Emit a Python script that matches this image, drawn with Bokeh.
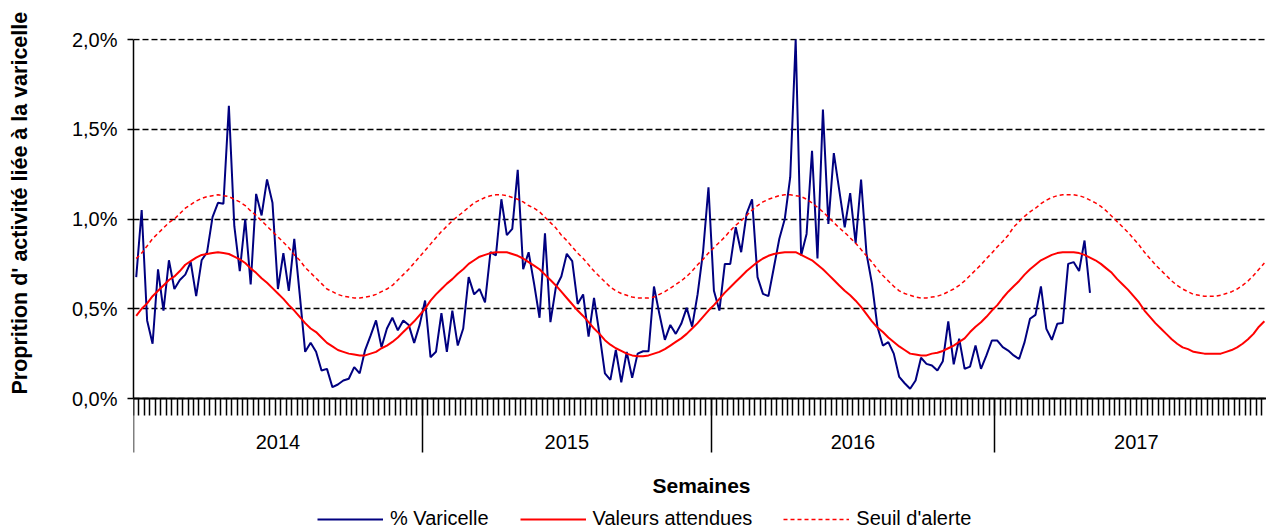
from bokeh.plotting import figure
from bokeh.models import Range1d, FixedTicker, Legend, LegendItem, Label, LinearAxis, Title
from bokeh.embed import file_html
from bokeh.resources import INLINE

# ---------------- data ----------------
varicelle = [
    0.676, 1.05, 0.435, 0.305, 0.72, 0.49, 0.77, 0.61, 0.66, 0.69,
    0.76, 0.57, 0.77, 0.815, 1.01, 1.09, 1.085, 1.63, 0.96, 0.71,
    1.0, 0.635, 1.14, 1.02, 1.22, 1.09, 0.61, 0.81, 0.60, 0.89,
    0.58, 0.26, 0.31, 0.26, 0.156, 0.165, 0.063, 0.078, 0.10, 0.11,
    0.175, 0.14, 0.27, 0.35, 0.435, 0.286, 0.39, 0.45, 0.38, 0.435,
    0.41, 0.31, 0.41,
    0.546, 0.23, 0.26, 0.475, 0.26, 0.49, 0.295, 0.39, 0.676, 0.58,
    0.61, 0.536, 0.815, 0.797, 1.11, 0.91, 0.945, 1.274, 0.72, 0.815,
    0.64, 0.45, 0.92, 0.425, 0.62, 0.68, 0.806, 0.765, 0.527, 0.58,
    0.345, 0.56, 0.36, 0.14, 0.104, 0.27, 0.09, 0.26, 0.115, 0.25,
    0.263, 0.263, 0.624, 0.47, 0.327, 0.41, 0.36, 0.416, 0.505, 0.40,
    0.58, 0.815, 1.177, 0.60, 0.49,
    0.75, 0.75, 0.954, 0.815, 1.03, 1.11, 0.676, 0.583, 0.57, 0.73,
    0.89, 1.0, 1.233, 2.0, 0.797, 0.917, 1.38, 0.78, 1.61, 0.973,
    1.367, 1.16, 0.954, 1.144, 0.865, 1.22, 0.806, 0.64, 0.40, 0.295,
    0.314, 0.25, 0.12, 0.085, 0.054, 0.10, 0.227, 0.193, 0.184, 0.156,
    0.208, 0.43, 0.19, 0.333, 0.165, 0.178, 0.295, 0.165, 0.24, 0.323,
    0.323, 0.286, 0.267, 0.24, 0.22, 0.314, 0.444, 0.466, 0.624, 0.388,
    0.327, 0.416, 0.42, 0.75, 0.76, 0.71, 0.88, 0.589,
]

attendues = [
    0.46, 0.50, 0.53, 0.57, 0.60, 0.63, 0.66, 0.68, 0.71, 0.745,
    0.765, 0.785, 0.80, 0.805, 0.81, 0.815, 0.81, 0.805, 0.79, 0.775,
    0.755, 0.725, 0.70, 0.67, 0.645, 0.615, 0.585, 0.555, 0.52, 0.49,
    0.455, 0.42, 0.39, 0.37, 0.34, 0.31, 0.29, 0.27, 0.26, 0.25,
    0.245, 0.24, 0.24, 0.25, 0.26, 0.28, 0.295, 0.315, 0.34, 0.37,
    0.40, 0.43, 0.465, 0.50, 0.545, 0.58, 0.61, 0.64, 0.665, 0.695,
    0.72, 0.75, 0.77, 0.79, 0.80, 0.81, 0.815, 0.815, 0.815, 0.805,
    0.795, 0.78, 0.76, 0.74, 0.72, 0.69, 0.66, 0.63, 0.595, 0.56,
    0.525, 0.49, 0.46, 0.425, 0.39, 0.36, 0.325, 0.30, 0.28, 0.265,
    0.25, 0.24, 0.235, 0.235, 0.24, 0.25, 0.26, 0.275, 0.295, 0.315,
    0.335, 0.36, 0.39, 0.42, 0.455, 0.49, 0.52, 0.555, 0.59, 0.62,
    0.65, 0.68, 0.71, 0.735, 0.76, 0.78, 0.795, 0.805, 0.81, 0.815,
    0.815, 0.815, 0.80, 0.785, 0.77, 0.745, 0.72, 0.69, 0.66, 0.63,
    0.60, 0.575, 0.545, 0.51, 0.47, 0.43, 0.395, 0.37, 0.34, 0.315,
    0.29, 0.27, 0.25, 0.245, 0.24, 0.24, 0.25, 0.255, 0.265, 0.28,
    0.295, 0.315, 0.335, 0.37, 0.40, 0.425, 0.455, 0.49, 0.52, 0.56,
    0.595, 0.625, 0.655, 0.69, 0.72, 0.745, 0.77, 0.785, 0.80, 0.81,
    0.815, 0.815, 0.815, 0.81, 0.80, 0.785, 0.77, 0.75, 0.725, 0.70,
    0.665, 0.635, 0.605, 0.57, 0.535, 0.49, 0.455, 0.42, 0.39, 0.36,
    0.33, 0.305, 0.285, 0.275, 0.26, 0.255, 0.25, 0.25, 0.25, 0.25,
    0.26, 0.27, 0.285, 0.305, 0.33, 0.36, 0.40, 0.43,
]

seuil = [
    0.78, 0.81, 0.85, 0.89, 0.92, 0.95, 0.98, 1.00, 1.03, 1.06,
    1.08, 1.10, 1.115, 1.125, 1.13, 1.135, 1.13, 1.125, 1.11, 1.095,
    1.075, 1.045, 1.02, 0.99, 0.96, 0.93, 0.90, 0.87, 0.84, 0.80,
    0.77, 0.73, 0.70, 0.67, 0.64, 0.61, 0.595, 0.58, 0.57, 0.565,
    0.56, 0.56, 0.565, 0.57, 0.58, 0.595, 0.61, 0.63, 0.66, 0.69,
    0.72, 0.755, 0.79, 0.825, 0.86, 0.895, 0.93, 0.96, 0.99, 1.015,
    1.04, 1.065, 1.09, 1.105, 1.12, 1.13, 1.135, 1.135, 1.13, 1.12,
    1.11, 1.095, 1.075, 1.06, 1.04, 1.01, 0.98, 0.95, 0.91, 0.88,
    0.845, 0.81, 0.78, 0.745, 0.71, 0.68, 0.65, 0.62, 0.60, 0.585,
    0.575, 0.565, 0.56, 0.56, 0.56, 0.565, 0.58, 0.595, 0.615, 0.635,
    0.655, 0.68, 0.71, 0.745, 0.775, 0.81, 0.84, 0.87, 0.90, 0.935,
    0.965, 0.99, 1.02, 1.05, 1.075, 1.095, 1.11, 1.12, 1.13, 1.135,
    1.135, 1.13, 1.125, 1.11, 1.09, 1.065, 1.04, 1.01, 0.98, 0.95,
    0.925, 0.895, 0.865, 0.83, 0.795, 0.76, 0.72, 0.685, 0.655, 0.625,
    0.60, 0.585, 0.575, 0.565, 0.56, 0.56, 0.565, 0.57, 0.58, 0.595,
    0.61, 0.63, 0.655, 0.685, 0.715, 0.745, 0.78, 0.81, 0.845, 0.875,
    0.91, 0.955, 0.985, 1.015, 1.04, 1.06, 1.085, 1.105, 1.12, 1.13,
    1.135, 1.135, 1.135, 1.13, 1.12, 1.105, 1.09, 1.07, 1.045, 1.015,
    0.985, 0.955, 0.925, 0.89, 0.855, 0.815, 0.78, 0.745, 0.715, 0.685,
    0.655, 0.63, 0.61, 0.595, 0.58, 0.575, 0.57, 0.57, 0.57, 0.575,
    0.585, 0.595, 0.61, 0.63, 0.655, 0.685, 0.72, 0.755,
]

year_labels = ["2014", "2015", "2016", "2017"]
year_starts = [0, 53, 106, 158]
year_centers = [26.5, 79.5, 132, 184]
y_ticks = [0.0, 0.5, 1.0, 1.5, 2.0]
y_tick_labels = ["0,0%", "0,5%", "1,0%", "1,5%", "2,0%"]
n_weeks = 208

weeks_v = [i + 0.5 for i in range(len(varicelle))]
weeks_r = [i + 0.5 for i in range(len(attendues))]

# ---------------- layout ----------------
FONT = "Liberation Sans"
W, H = 1266, 530
LEFT, TOP = 133, 38
ZERO_PX = 398                      # pixel row of the 0 % line
PX_Y = 2.0056 / (ZERO_PX - TOP)    # data units per pixel (y)
X_MAX = (W - LEFT) / 5.45          # 5.45 px per week
Y_MIN = -(H - ZERO_PX) * PX_Y

p = figure(width=W, height=H,
           x_range=Range1d(0, X_MAX), y_range=Range1d(Y_MIN, 2.0056),
           output_backend="svg", toolbar_location=None,
           min_border_left=LEFT, min_border_right=0,
           min_border_top=TOP, min_border_bottom=0)
p.outline_line_color = None
p.background_fill_color = "white"
p.border_fill_color = "white"
p.xgrid.visible = False
p.ygrid.grid_line_color = "black"
p.ygrid.grid_line_dash = "6 3"
p.ygrid.grid_line_width = 1.5
p.ygrid.bounds = (Y_MIN, 2.0056)

# y axis
ya = p.yaxis[0]
ya.bounds = (0, 2.0)
ya.ticker = FixedTicker(ticks=y_ticks)
ya.major_label_overrides = {t: l for t, l in zip(y_ticks, y_tick_labels)}
ya.major_label_text_font = FONT
ya.major_label_text_font_size = "20px"
ya.major_label_text_color = "black"
ya.major_label_standoff = 10
ya.major_tick_out = 6
ya.major_tick_in = 0
ya.major_tick_line_color = "black"
ya.major_tick_line_width = 1.5
ya.minor_tick_line_color = None
ya.axis_line_color = "black"
ya.axis_line_width = 1.5

# spacer axis between the tick labels and the y title: one white tick, no label
spacer = LinearAxis(ticker=FixedTicker(ticks=[0.0]), bounds=(0, 2.0),
                    major_tick_out=36, major_tick_in=0,
                    major_tick_line_color="white", minor_tick_line_color=None,
                    axis_line_color=None, major_label_standoff=0,
                    major_label_overrides={0.0: ""}, major_label_text_font_size="1px")
p.add_layout(spacer, "left")

ytitle = Title(text="Proprition d' activité liée à la varicelle", align="left",
               offset=H - 394, vertical_align="middle", standoff=0,
               text_font=FONT, text_font_size="21.5px", text_font_style="bold",
               text_color="black")
p.add_layout(ytitle, "left")

# x axis (drawn on the 0 line)
xa = p.xaxis[0]
xa.fixed_location = 0
xa.ticker = FixedTicker(ticks=year_starts, minor_ticks=list(range(0, n_weeks + 1)))
xa.major_label_overrides = {t: "" for t in year_starts}
xa.major_label_text_font_size = "1px"
xa.major_tick_out = 54
xa.major_tick_in = 0
xa.major_tick_line_color = "black"
xa.major_tick_line_width = 1.5
xa.minor_tick_out = 17
xa.minor_tick_in = 0
xa.minor_tick_line_color = "black"
xa.minor_tick_line_width = 1.5
xa.axis_line_color = "black"
xa.axis_line_width = 2

# series
r_v = p.line(weeks_v, varicelle, line_color="#000080", line_width=2)
r_a = p.line(weeks_r, attendues, line_color="#FF0000", line_width=2)
r_s = p.line(weeks_r, seuil, line_color="#FF0000", line_width=1.5, line_dash="4 3")

# year labels under the axis
for xc, lab in zip(year_centers, year_labels):
    p.add_layout(Label(x=xc, y=-43.5 * PX_Y, text=lab, text_align="center",
                       text_baseline="middle", text_font=FONT,
                       text_font_size="20px", text_color="black"))

p.add_layout(Label(x=(701 - LEFT) / 5.45, y=-87 * PX_Y, text="Semaines",
                   text_align="center", text_baseline="middle", text_font=FONT,
                   text_font_size="21px", text_font_style="bold", text_color="black"))

legend = Legend(items=[LegendItem(label="% Varicelle", renderers=[r_v]),
                       LegendItem(label="Valeurs attendues", renderers=[r_a]),
                       LegendItem(label="Seuil d'alerte", renderers=[r_s])],
                orientation="horizontal", location=(317 - LEFT, 0),
                glyph_width=66, glyph_height=20, label_height=20,
                label_standoff=7, spacing=31, padding=0, margin=0,
                border_line_color=None, background_fill_alpha=0,
                label_text_font=FONT, label_text_font_size="20px",
                label_text_color="black")
p.add_layout(legend, "center")

open("out.html", "w").write(file_html(p, INLINE))
